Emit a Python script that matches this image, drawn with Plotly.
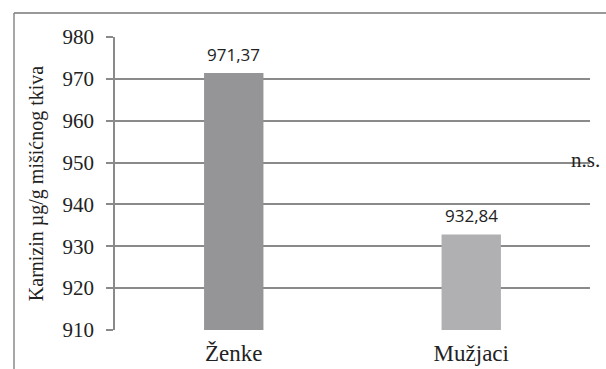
import plotly.graph_objects as go

categories = ["Ženke", "Mužjaci"]
values = [971.37, 932.84]
bar_colors = ["#959597", "#b0b0b2"]
y_ticks = [910, 920, 930, 940, 950, 960, 970, 980]

W, H = 606, 369
L, R, T, B = 115, 16, 37, 39
pw, ph = W - L - R, H - T - B
SERIF = "'Times New Roman', 'Liberation Serif', 'DejaVu Serif', serif"
SANS = "Open Sans"

def px_x(x):
    return (x - L) / pw

def px_y(y):
    return 1 - (y - T) / ph

fig = go.Figure()
fig.add_trace(go.Bar(
    x=categories, y=[v - 910 for v in values], base=910,
    marker=dict(color=bar_colors, line=dict(width=0)),
    width=0.25,
))

for c, v in zip(categories, values):
    fig.add_annotation(
        x=c, y=v, text=f"{v:.2f}".replace(".", ","),
        showarrow=False, yanchor="bottom", yshift=5,
        font=dict(family=SANS, size=17, color="#222"),
    )

fig.add_annotation(
    xref="paper", yref="paper", x=px_x(585), y=px_y(160),
    text="n.s.", showarrow=False, xanchor="center", yanchor="middle",
    font=dict(family=SERIF, size=21, color="#222"),
)

# outer frame (left and top edges)
fig.add_shape(type="line", xref="paper", yref="paper",
              x0=px_x(14), x1=px_x(14), y0=px_y(13), y1=px_y(369),
              line=dict(color="#777", width=1.3))
fig.add_shape(type="line", xref="paper", yref="paper",
              x0=px_x(14), x1=px_x(606), y0=px_y(13), y1=px_y(13),
              line=dict(color="#777", width=1.3))

fig.update_layout(
    width=W, height=H,
    margin=dict(l=L, r=R, t=T, b=B),
    paper_bgcolor="white", plot_bgcolor="white",
    showlegend=False,
    xaxis=dict(
        automargin=False,
        showgrid=False, showline=False, ticks="",
        tickfont=dict(family=SERIF, size=23, color="#222"),
        ticklabelstandoff=7,
    ),
    yaxis=dict(
        automargin=False,
        range=[910, 980], tickvals=y_ticks,
        showgrid=True, gridcolor="#8a8a8a", gridwidth=1.6,
        showline=True, linecolor="#8a8a8a", linewidth=1.6,
        ticks="outside", ticklen=7, tickcolor="#8a8a8a", tickwidth=1.6,
        zeroline=False,
        tickfont=dict(family=SERIF, size=21, color="#222"),
        ticklabelstandoff=8,
        title=dict(text="Karnizin µg/g mišićnog tkiva", standoff=14,
                   font=dict(family=SERIF, size=20, color="#222")),
    ),
)

fig.write_html("out.html")
